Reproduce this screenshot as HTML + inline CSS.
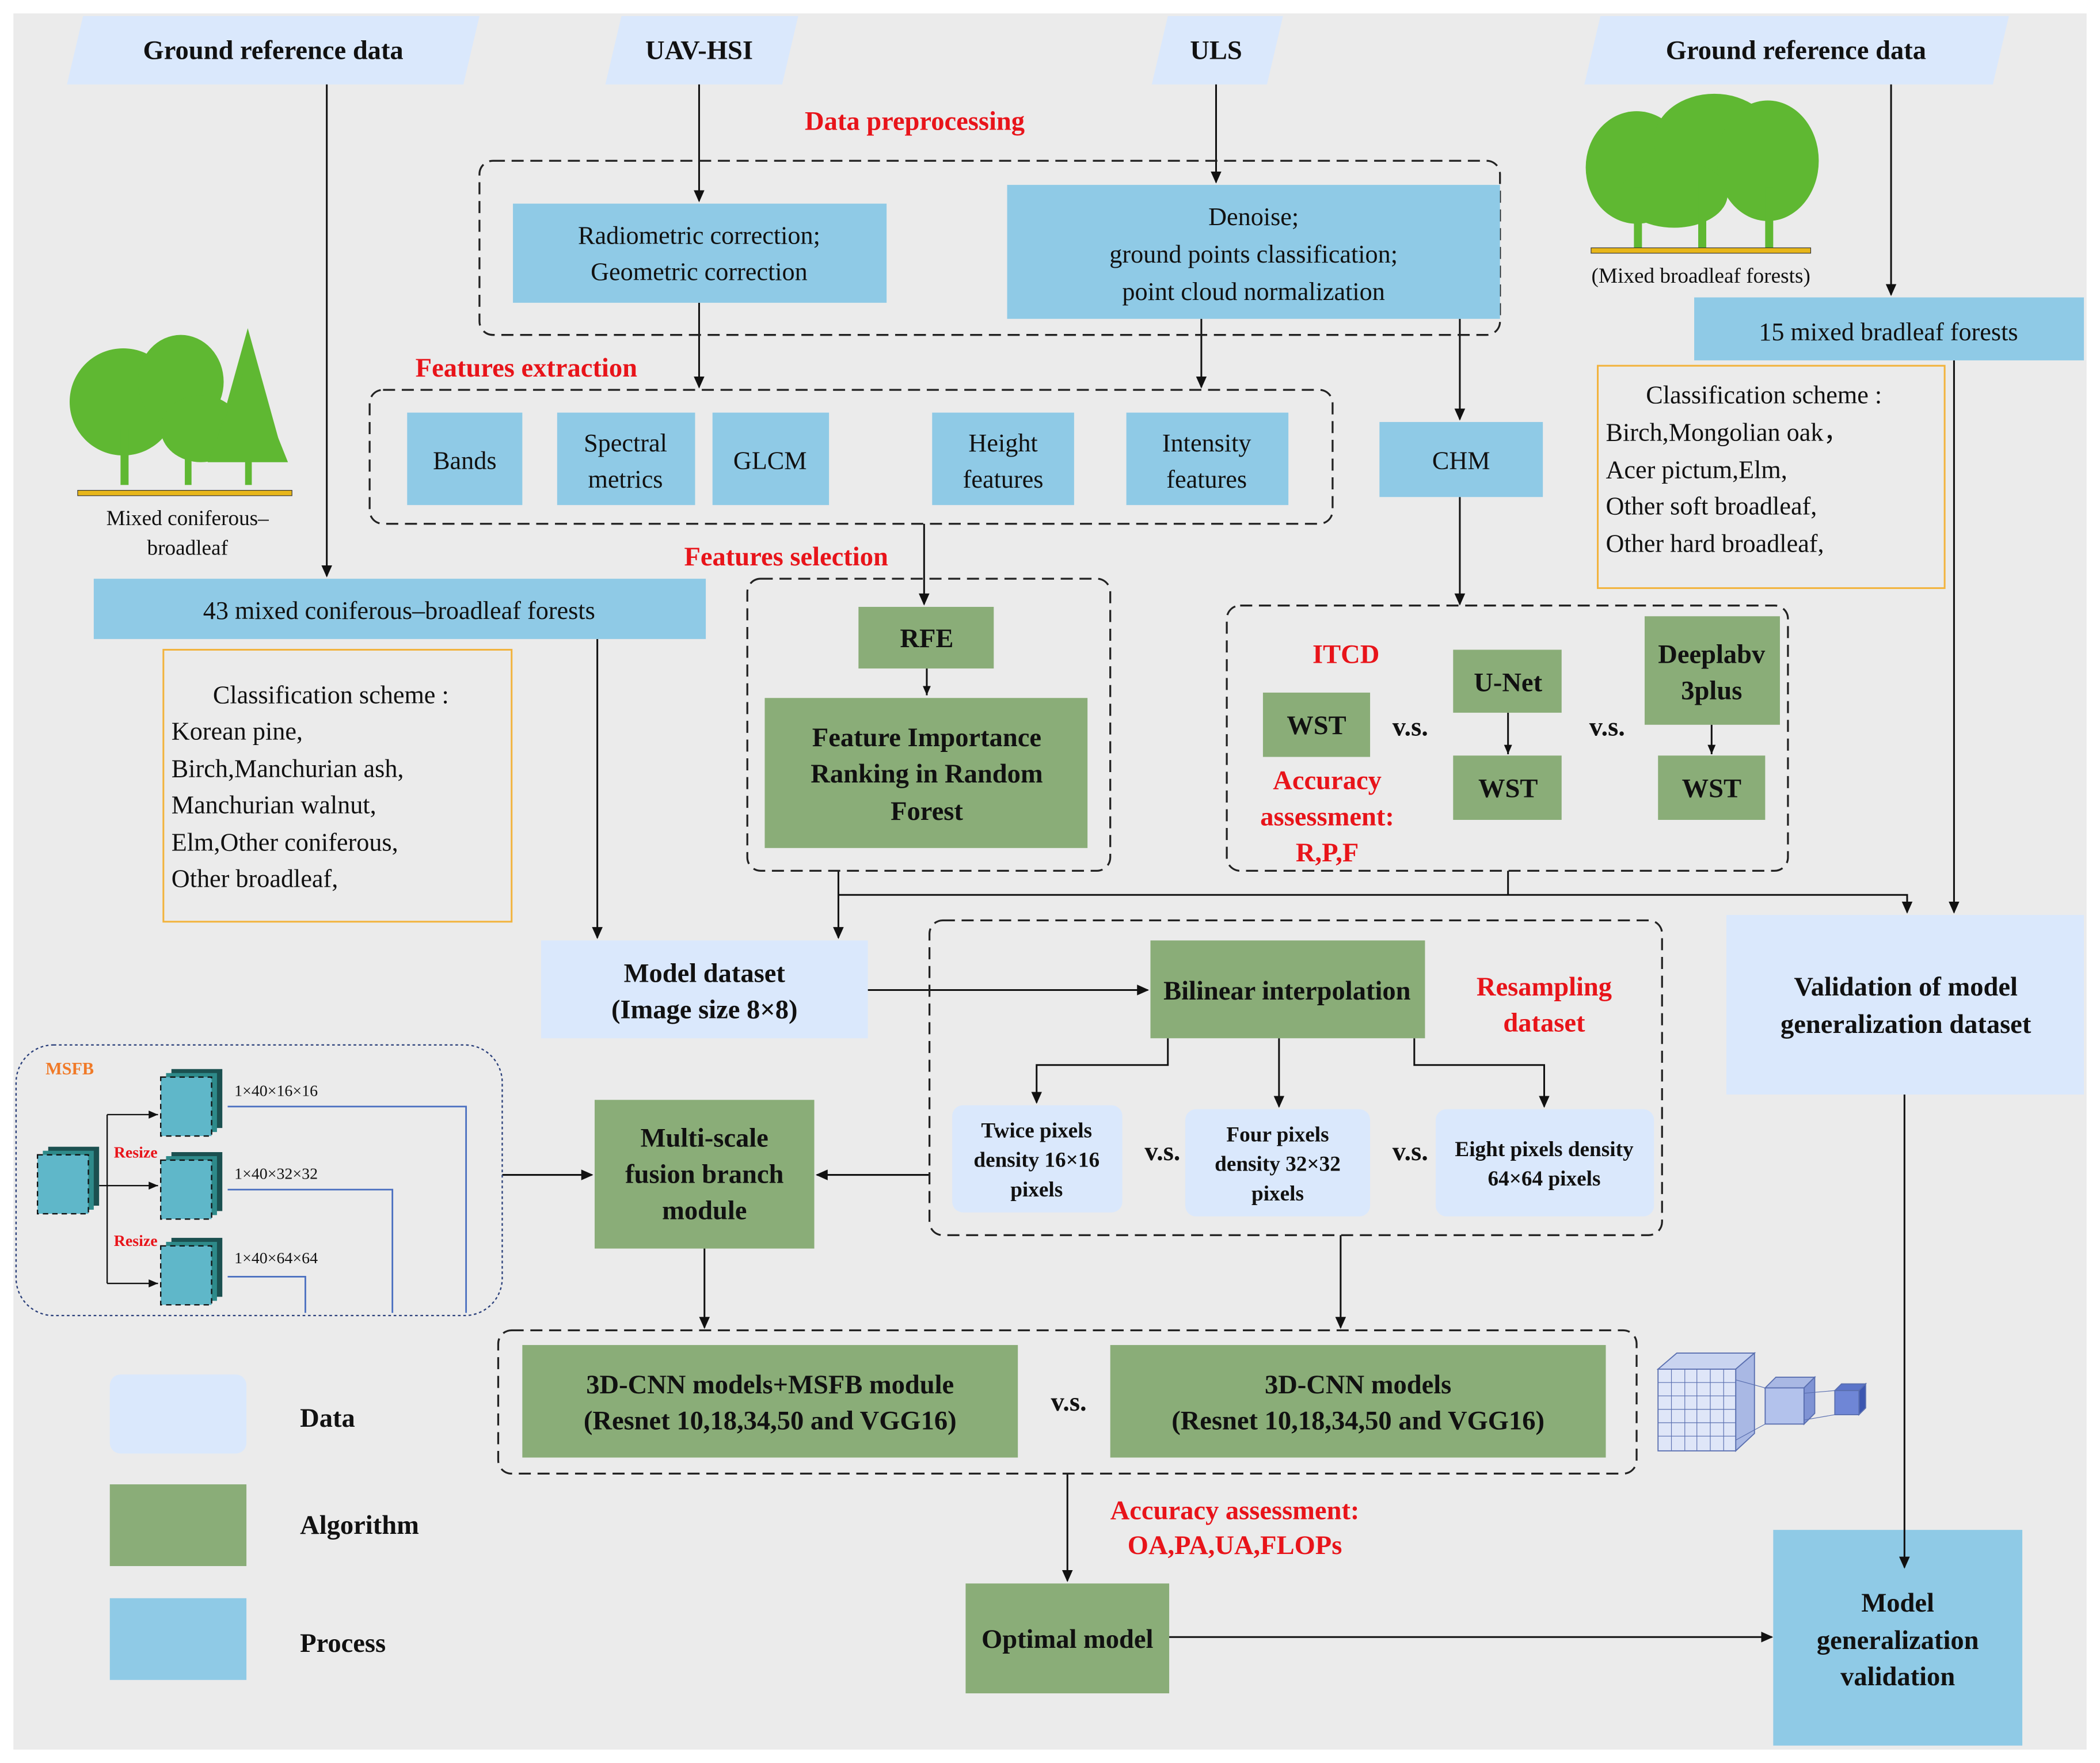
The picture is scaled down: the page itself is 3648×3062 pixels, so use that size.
<!DOCTYPE html>
<html><head><meta charset="utf-8">
<style>
html,body{margin:0;padding:0;background:#fff;}
svg{display:block;}
text{font-family:"Liberation Serif",serif;}
</style></head>
<body>
<svg width="3648" height="3062" viewBox="0 0 1568 1316" preserveAspectRatio="none" xmlns="http://www.w3.org/2000/svg">
<defs>
<marker id="a" markerWidth="10" markerHeight="10" refX="8" refY="5" orient="auto" markerUnits="userSpaceOnUse">
<path d="M0,1 L9,5 L0,9 z" fill="#111"/></marker>
<marker id="b" markerWidth="8" markerHeight="8" refX="7" refY="4" orient="auto" markerUnits="userSpaceOnUse">
<path d="M0,1 L7,4 L0,7 z" fill="#111"/></marker>
</defs>
<rect x="0" y="0" width="1568" height="1316" fill="#fff"/>
<rect x="10" y="10" width="1548" height="1296" fill="#ebebeb"/>

<g fill="#dae8fc">
<polygon points="62,12 358,12 346,63 50,63"/>
<polygon points="464,12 596,12 584,63 452,63"/>
<polygon points="872,12 958,12 946,63 860,63"/>
<polygon points="1195,12 1500,12 1488,63 1183,63"/>
</g>
<g font-size="20" font-weight="bold" text-anchor="middle" fill="#111">
<text x="204" y="44">Ground reference data</text>
<text x="522" y="44">UAV-HSI</text>
<text x="908" y="44">ULS</text>
<text x="1341" y="44">Ground reference data</text>
</g>

<g stroke="#111" stroke-width="1.3" fill="none">
<line x1="244" y1="63" x2="244" y2="430" marker-end="url(#a)"/>
<line x1="522" y1="63" x2="522" y2="150" marker-end="url(#a)"/>
<line x1="908" y1="63" x2="908" y2="136" marker-end="url(#a)"/>
<line x1="1412" y1="63" x2="1412" y2="220" marker-end="url(#a)"/>
<line x1="522" y1="226" x2="522" y2="289" marker-end="url(#a)"/>
<line x1="897" y1="238" x2="897" y2="289" marker-end="url(#a)"/>
<line x1="1090" y1="238" x2="1090" y2="313" marker-end="url(#a)"/>
<line x1="690" y1="391" x2="690" y2="451" marker-end="url(#a)"/>
<line x1="692" y1="499" x2="692" y2="519" marker-end="url(#b)"/>
<line x1="1090" y1="371" x2="1090" y2="451" marker-end="url(#a)"/>
<line x1="446" y1="477" x2="446" y2="700" marker-end="url(#a)"/>
<line x1="626" y1="650" x2="626" y2="700" marker-end="url(#a)"/>
<polyline points="626,668 1424,668 1424,681" marker-end="url(#a)"/>
<line x1="1126" y1="650" x2="1126" y2="668"/>
<line x1="1459" y1="269" x2="1459" y2="681" marker-end="url(#a)"/>
<line x1="648" y1="739" x2="857" y2="739" marker-end="url(#a)"/>
<polyline points="872,775 872,795 774,795 774,823" marker-end="url(#a)"/>
<line x1="955" y1="775" x2="955" y2="826" marker-end="url(#a)"/>
<polyline points="1056,775 1056,795 1153,795 1153,826" marker-end="url(#a)"/>
<line x1="694" y1="877" x2="610" y2="877" marker-end="url(#a)"/>
<line x1="375" y1="877" x2="442" y2="877" marker-end="url(#a)"/>
<line x1="526" y1="932" x2="526" y2="991" marker-end="url(#a)"/>
<line x1="1001" y1="922" x2="1001" y2="991" marker-end="url(#a)"/>
<line x1="797" y1="1100" x2="797" y2="1180" marker-end="url(#a)"/>
<line x1="873" y1="1222" x2="1323" y2="1222" marker-end="url(#a)"/>
<line x1="1126" y1="532" x2="1126" y2="563" marker-end="url(#b)"/>
<line x1="1278" y1="541" x2="1278" y2="563" marker-end="url(#b)"/>
</g>

<g stroke="#222" stroke-width="1.4" fill="none" stroke-dasharray="9,5">
<rect x="358" y="120" width="762" height="130" rx="10"/>
<rect x="276" y="291" width="719" height="100" rx="10"/>
<rect x="558" y="432" width="271" height="218" rx="10"/>
<rect x="916" y="452" width="419" height="198" rx="10"/>
<rect x="694" y="687" width="547" height="235" rx="10"/>
<rect x="372" y="993" width="850" height="107" rx="10"/>
</g>
<rect x="12" y="780" width="363" height="202" rx="28" fill="none" stroke="#2a3f7a" stroke-width="1" stroke-dasharray="2,2"/>

<g font-size="20" font-weight="bold" fill="#e8141a" text-anchor="middle">
<text x="683" y="97">Data preprocessing</text>
<text x="393" y="281">Features extraction</text>
<text x="587" y="422">Features selection</text>
<text x="1005" y="495">ITCD</text>
<text x="991" y="589">Accuracy</text>
<text x="991" y="616">assessment:</text>
<text x="991" y="643">R,P,F</text>
<text x="1153" y="743">Resampling</text>
<text x="1153" y="770">dataset</text>
<text x="922" y="1134">Accuracy assessment:</text>
<text x="922" y="1160">OA,PA,UA,FLOPs</text>
</g>

<g fill="#8fcae6">
<rect x="383" y="152" width="279" height="74"/>
<rect x="752" y="138" width="368" height="100"/>
<rect x="304" y="308" width="86" height="69"/>
<rect x="416" y="308" width="103" height="69"/>
<rect x="532" y="308" width="87" height="69"/>
<rect x="696" y="308" width="106" height="69"/>
<rect x="841" y="308" width="121" height="69"/>
<rect x="1030" y="315" width="122" height="56"/>
<rect x="70" y="432" width="457" height="45"/>
<rect x="1265" y="222" width="291" height="47"/>
<rect x="1324" y="1142" width="186" height="161"/>
<rect x="82" y="1193" width="102" height="61"/>
</g>
<g font-size="19" text-anchor="middle" fill="#111">
<text x="522" y="182">Radiometric correction;</text>
<text x="522" y="209">Geometric correction</text>
<text x="936" y="168">Denoise;</text>
<text x="936" y="196">ground points classification;</text>
<text x="936" y="224">point cloud normalization</text>
<text x="347" y="350">Bands</text>
<text x="467" y="337">Spectral</text>
<text x="467" y="364">metrics</text>
<text x="575" y="350">GLCM</text>
<text x="749" y="337">Height</text>
<text x="749" y="364">features</text>
<text x="901" y="337">Intensity</text>
<text x="901" y="364">features</text>
<text x="1091" y="350">CHM</text>
<text x="298" y="462">43 mixed coniferous–broadleaf forests</text>
<text x="1410" y="254">15 mixed bradleaf forests</text>
</g>
<g font-size="20" font-weight="bold" text-anchor="middle" fill="#111">
<text x="1417" y="1203">Model</text>
<text x="1417" y="1231">generalization</text>
<text x="1417" y="1258">validation</text>
</g>

<g fill="#dae8fc">
<rect x="404" y="702" width="244" height="73"/>
<rect x="1289" y="683" width="267" height="134"/>
<rect x="711" y="825" width="127" height="80" rx="8"/>
<rect x="885" y="828" width="138" height="80" rx="8"/>
<rect x="1072" y="828" width="163" height="80" rx="8"/>
<rect x="82" y="1026" width="102" height="59" rx="8"/>
</g>
<g font-size="20" font-weight="bold" text-anchor="middle" fill="#111">
<text x="526" y="733">Model  dataset</text>
<text x="526" y="760">(Image size 8×8)</text>
<text x="1423" y="743">Validation of model</text>
<text x="1423" y="771">generalization  dataset</text>
</g>
<g font-size="16" font-weight="bold" text-anchor="middle" fill="#111">
<text x="774" y="849">Twice pixels</text>
<text x="774" y="871">density  16×16</text>
<text x="774" y="893">pixels</text>
<text x="954" y="852">Four pixels</text>
<text x="954" y="874">density 32×32</text>
<text x="954" y="896">pixels</text>
<text x="1153" y="863">Eight pixels density</text>
<text x="1153" y="885">64×64 pixels</text>
</g>

<g fill="#8aad78">
<rect x="641" y="453" width="101" height="46"/>
<rect x="571" y="521" width="241" height="112"/>
<rect x="943" y="517" width="80" height="48"/>
<rect x="1085" y="485" width="81" height="47"/>
<rect x="1085" y="564" width="81" height="48"/>
<rect x="1228" y="460" width="101" height="81"/>
<rect x="1238" y="564" width="80" height="48"/>
<rect x="859" y="702" width="205" height="73"/>
<rect x="444" y="821" width="164" height="111"/>
<rect x="390" y="1004" width="370" height="84"/>
<rect x="829" y="1004" width="370" height="84"/>
<rect x="721" y="1182" width="152" height="82"/>
<rect x="82" y="1108" width="102" height="61"/>
</g>
<g font-size="20" font-weight="bold" text-anchor="middle" fill="#111">
<text x="692" y="483">RFE</text>
<text x="692" y="557">Feature Importance</text>
<text x="692" y="584">Ranking in Random</text>
<text x="692" y="612">Forest</text>
<text x="983" y="548">WST</text>
<text x="1126" y="516">U-Net</text>
<text x="1126" y="595">WST</text>
<text x="1278" y="495">Deeplabv</text>
<text x="1278" y="522">3plus</text>
<text x="1278" y="595">WST</text>
<text x="961" y="746">Bilinear interpolation</text>
<text x="526" y="856">Multi-scale</text>
<text x="526" y="883">fusion branch</text>
<text x="526" y="910">module</text>
<text x="575" y="1040">3D-CNN models+MSFB module</text>
<text x="575" y="1067">(Resnet 10,18,34,50 and VGG16)</text>
<text x="1014" y="1040">3D-CNN models</text>
<text x="1014" y="1067">(Resnet 10,18,34,50 and VGG16)</text>
<text x="797" y="1230">Optimal model</text>
<text x="1053" y="549">v.s.</text>
<text x="1200" y="549">v.s.</text>
<text x="868" y="866">v.s.</text>
<text x="1053" y="866">v.s.</text>
<text x="798" y="1053">v.s.</text>
</g>
<g font-size="20" font-weight="bold" fill="#111">
<text x="224" y="1065">Data</text>
<text x="224" y="1145">Algorithm</text>
<text x="224" y="1233">Process</text>
</g>

<!-- arrow drawn above boxes -->
<line x1="1422" y1="817" x2="1422" y2="1170" stroke="#111" stroke-width="1.3" marker-end="url(#a)"/>

<rect x="122" y="485" width="260" height="203" fill="none" stroke="#f2b33d" stroke-width="1.3"/>
<g font-size="19" fill="#111">
<text x="159" y="525">Classification scheme :</text>
<text x="128" y="552">Korean pine,</text>
<text x="128" y="580">Birch,Manchurian ash,</text>
<text x="128" y="607">Manchurian walnut,</text>
<text x="128" y="635">Elm,Other coniferous,</text>
<text x="128" y="662">Other broadleaf,</text>
</g>
<rect x="1193" y="273" width="259" height="166" fill="none" stroke="#f2b33d" stroke-width="1.3"/>
<g font-size="19" fill="#111">
<text x="1229" y="301">Classification scheme :</text>
<text x="1199" y="329">Birch,Mongolian oak，</text>
<text x="1199" y="357">Acer pictum,Elm,</text>
<text x="1199" y="384">Other soft broadleaf,</text>
<text x="1199" y="412">Other hard broadleaf,</text>
</g>

<g fill="#5fb832">
<ellipse cx="92" cy="300" rx="40" ry="40"/>
<ellipse cx="135" cy="285" rx="32" ry="35"/>
<ellipse cx="150" cy="320" rx="30" ry="25"/>
<polygon points="185,245 160,335 210,335"/>
<polygon points="185,270 155,345 215,345"/>
<rect x="90" y="320" width="6" height="42"/>
<rect x="138" y="320" width="5" height="42"/>
<rect x="183" y="330" width="5" height="32"/>
</g>
<rect x="58" y="366" width="160" height="4" fill="#e7b61a" stroke="#333" stroke-width="0.5"/>
<g font-size="16" text-anchor="middle" fill="#111">
<text x="140" y="392">Mixed coniferous–</text>
<text x="140" y="414">broadleaf</text>
</g>
<g fill="#5fb832">
<ellipse cx="1222" cy="125" rx="38" ry="42"/>
<ellipse cx="1280" cy="105" rx="45" ry="35"/>
<ellipse cx="1320" cy="120" rx="38" ry="45"/>
<ellipse cx="1250" cy="145" rx="40" ry="25"/>
<rect x="1220" y="140" width="6" height="45"/>
<rect x="1268" y="135" width="6" height="50"/>
<rect x="1318" y="140" width="6" height="45"/>
</g>
<rect x="1188" y="185" width="164" height="4" fill="#e7b61a" stroke="#333" stroke-width="0.5"/>
<text x="1270" y="211" font-size="16" text-anchor="middle" fill="#111">(Mixed broadleaf forests)</text>

<text x="34" y="802" font-size="13" font-weight="bold" fill="#f07a28" font-family="Liberation Sans,sans-serif">MSFB</text>
<g font-size="12" fill="#111">
<text x="175" y="818">1×40×16×16</text>
<text x="175" y="880">1×40×32×32</text>
<text x="175" y="943">1×40×64×64</text>
</g>
<g font-size="12" font-weight="bold" fill="#e8141a">
<text x="85" y="864">Resize</text>
<text x="85" y="930">Resize</text>
</g>
<g stroke="#111" stroke-width="1" fill="none">
<polyline points="74,885 80,885"/>
<line x1="80" y1="832" x2="80" y2="958"/>
<line x1="80" y1="832" x2="118" y2="832" marker-end="url(#b)"/>
<line x1="80" y1="885" x2="118" y2="885" marker-end="url(#b)"/>
<line x1="80" y1="958" x2="118" y2="958" marker-end="url(#b)"/>
</g>
<g stroke="#4a6fc0" stroke-width="1.2" fill="none">
<polyline points="170,826 348,826 348,980"/>
<polyline points="170,888 293,888 293,980"/>
<polyline points="170,953 228,953 228,980"/>
</g>
<g>
<g transform="translate(28,862)"><rect x="8" y="-6" width="38" height="44" fill="#1b5050"/><rect x="4" y="-3" width="38" height="44" fill="#2e8a8a"/><rect x="0" y="0" width="38" height="44" fill="#5fb7c9" stroke="#111" stroke-width="1" stroke-dasharray="4,3"/></g>
<g transform="translate(120,804)"><rect x="8" y="-6" width="38" height="44" fill="#1b5050"/><rect x="4" y="-3" width="38" height="44" fill="#2e8a8a"/><rect x="0" y="0" width="38" height="44" fill="#5fb7c9" stroke="#111" stroke-width="1" stroke-dasharray="4,3"/></g>
<g transform="translate(120,866)"><rect x="8" y="-6" width="38" height="44" fill="#1b5050"/><rect x="4" y="-3" width="38" height="44" fill="#2e8a8a"/><rect x="0" y="0" width="38" height="44" fill="#5fb7c9" stroke="#111" stroke-width="1" stroke-dasharray="4,3"/></g>
<g transform="translate(120,930)"><rect x="8" y="-6" width="38" height="44" fill="#1b5050"/><rect x="4" y="-3" width="38" height="44" fill="#2e8a8a"/><rect x="0" y="0" width="38" height="44" fill="#5fb7c9" stroke="#111" stroke-width="1" stroke-dasharray="4,3"/></g>
</g>

<g stroke="#5a6fb0" stroke-width="0.8">
<polygon points="1238,1022 1252,1010 1310,1010 1296,1022" fill="#c9d4f0"/>
<polygon points="1296,1022 1310,1010 1310,1070 1296,1083" fill="#a9b8e4"/>
<rect x="1238" y="1022" width="58" height="61" fill="#dfe6f8"/>
<polygon points="1318,1036 1326,1028 1355,1028 1347,1036" fill="#a9b8e4"/>
<polygon points="1347,1036 1355,1028 1355,1055 1347,1063" fill="#7f93d4"/>
<rect x="1318" y="1036" width="29" height="27" fill="#b3c2ec"/>
<polygon points="1370,1038 1375,1033 1393,1033 1388,1038" fill="#5b74c9"/>
<polygon points="1388,1038 1393,1033 1393,1051 1388,1056" fill="#3c56b0"/>
<rect x="1370" y="1038" width="18" height="18" fill="#6f86d6"/>
</g>
<g stroke="#5a6fb0" stroke-width="0.5">
<line x1="1248" y1="1022" x2="1248" y2="1083"/><line x1="1258" y1="1022" x2="1258" y2="1083"/><line x1="1267" y1="1022" x2="1267" y2="1083"/><line x1="1277" y1="1022" x2="1277" y2="1083"/><line x1="1287" y1="1022" x2="1287" y2="1083"/>
<line x1="1238" y1="1032" x2="1296" y2="1032"/><line x1="1238" y1="1042" x2="1296" y2="1042"/><line x1="1238" y1="1052" x2="1296" y2="1052"/><line x1="1238" y1="1062" x2="1296" y2="1062"/><line x1="1238" y1="1072" x2="1296" y2="1072"/>
<line x1="1296" y1="1030" x2="1318" y2="1036"/><line x1="1296" y1="1075" x2="1318" y2="1063"/>
<line x1="1347" y1="1040" x2="1370" y2="1038"/><line x1="1347" y1="1060" x2="1370" y2="1056"/>
</g>
</svg>
</body></html>
